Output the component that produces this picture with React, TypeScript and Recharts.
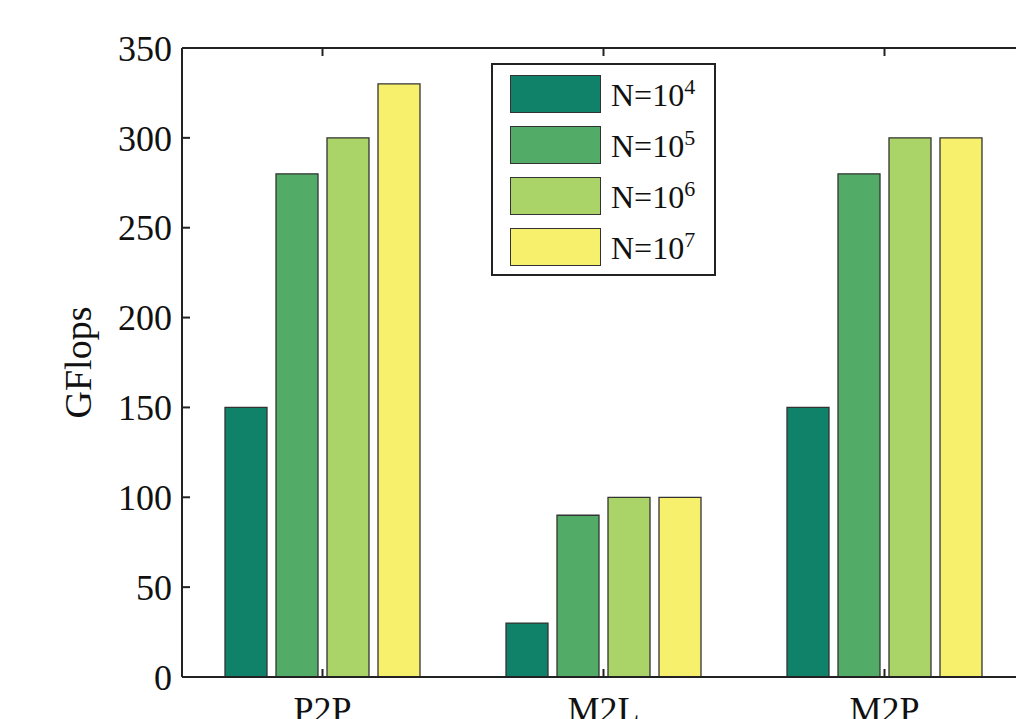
import React from "react";
import { Bar, BarChart, XAxis, YAxis } from "recharts";

const categories = ["P2P", "M2L", "M2P"];
const seriesNames = ["N=10^4", "N=10^5", "N=10^6", "N=10^7"];
const seriesExp = ["4", "5", "6", "7"];
const seriesColors = ["#11826a", "#52ab66", "#aad468", "#f6f06c"];
const n4 = [150, 30, 150];
const n5 = [280, 90, 280];
const n6 = [300, 100, 300];
const n7 = [330, 100, 300];
const yTicks = [0, 50, 100, 150, 200, 250, 300, 350];

const values = [n4, n5, n6, n7];
const data = categories.map((name, i) => {
  const row: Record<string, string | number> = { name };
  seriesNames.forEach((s, k) => {
    row[s] = values[k][i];
  });
  return row;
});

const font = "'Liberation Serif', 'DejaVu Serif', serif";
const axisColor = "#222";

const LegendBox = () => (
  <div
    style={{
      position: "absolute",
      left: 483,
      top: 55,
      width: 225,
      height: 213,
      border: "2px solid #222",
      background: "#fff",
      fontFamily: font,
      boxSizing: "border-box",
    }}
  >
    {seriesNames.map((s, i) => (
      <div
        key={s}
        style={{
          position: "absolute",
          left: 17,
          top: 10 + i * 51,
          display: "flex",
          alignItems: "flex-start",
        }}
      >
        <div
          style={{
            width: 91,
            height: 38,
            background: seriesColors[i],
            border: "1.5px solid #333",
            boxSizing: "border-box",
          }}
        />
        <span style={{ marginLeft: 10, fontSize: 32, color: "#111", lineHeight: "38px", marginTop: 1 }}>
          N=10
          <sup style={{ fontSize: 22, verticalAlign: "0.55em", lineHeight: 0 }}>{seriesExp[i]}</sup>
        </span>
      </div>
    ))}
  </div>
);

export default function App() {
  return (
    <div style={{ position: "relative", width: 1016, height: 711, overflow: "hidden" }}>
      <BarChart
        width={1100}
        height={780}
        data={data}
        margin={{ top: 30, right: 63, left: 54, bottom: 51 }}
        barSize={42}
        barGap={9}
      >
        <XAxis
          dataKey="name"
          xAxisId="bottom"
          height={60}
          axisLine={{ stroke: axisColor, strokeWidth: 2 }}
          tickLine={{ stroke: axisColor, strokeWidth: 2 }}
          tickSize={-8}
          tickMargin={27}
          tick={{ fontSize: 36, fill: "#111", fontFamily: font }}
        />
        <XAxis
          dataKey="name"
          xAxisId="top"
          orientation="top"
          height={10}
          axisLine={{ stroke: axisColor, strokeWidth: 2 }}
          tickLine={{ stroke: axisColor, strokeWidth: 2 }}
          tickSize={-8}
          tickFormatter={() => ""}
        />
        <YAxis
          yAxisId="left"
          width={120}
          domain={[0, 350]}
          ticks={yTicks}
          interval={0}
          axisLine={{ stroke: axisColor, strokeWidth: 2 }}
          tickLine={{ stroke: axisColor, strokeWidth: 2 }}
          tickSize={-8}
          tickMargin={18}
          tick={{ fontSize: 36, fill: "#111", fontFamily: font }}
          label={{
            value: "GFlops",
            angle: -90,
            position: "insideLeft",
            offset: 16,
            style: { textAnchor: "middle", fontSize: 38, fill: "#111", fontFamily: font },
          }}
        />
        <YAxis
          yAxisId="right"
          orientation="right"
          width={20}
          domain={[0, 350]}
          ticks={yTicks}
          interval={0}
          axisLine={{ stroke: axisColor, strokeWidth: 2 }}
          tickLine={{ stroke: axisColor, strokeWidth: 2 }}
          tickSize={-8}
          tickFormatter={() => ""}
        />
        {seriesNames.map((s, i) => (
          <Bar
            key={s}
            dataKey={s}
            xAxisId="bottom"
            yAxisId="left"
            fill={seriesColors[i]}
            stroke="#333"
            strokeWidth={1.3}
            isAnimationActive={false}
          />
        ))}
      </BarChart>
      <LegendBox />
    </div>
  );
}
